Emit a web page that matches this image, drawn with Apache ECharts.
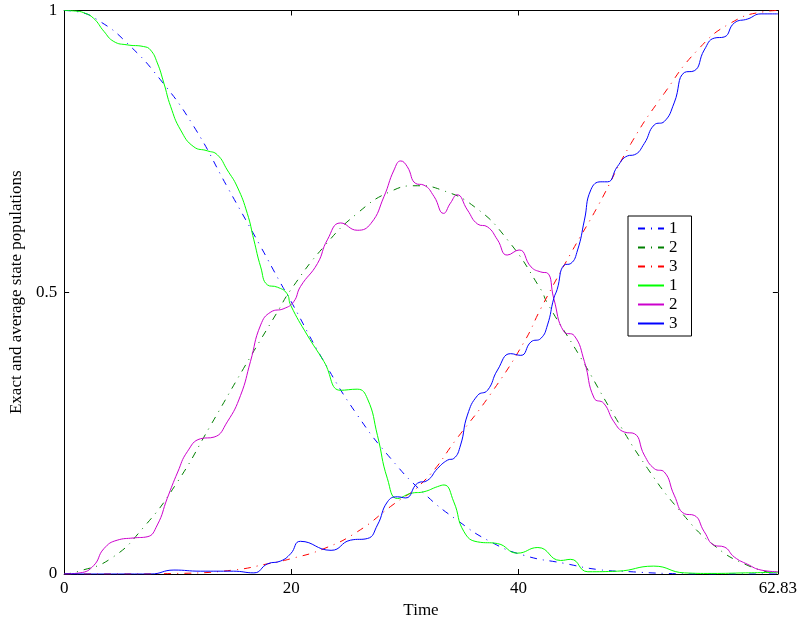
<!DOCTYPE html>
<html>
<head>
<meta charset="utf-8">
<script src="https://cdn.jsdelivr.net/npm/echarts@6/dist/echarts.min.js"></script>
<style>
html,body{margin:0;padding:0;background:#fff;}
#chart{width:800px;height:624px;}
</style>
</head>
<body>
<div id="chart"></div>
<script>
// ---- Data ----
const xTicks = [0, 20, 40, 62.83];
const yTicks = [0, 0.5, 1];

const legendKeys  = ['a1', 'a2', 'a3', 'e1', 'e2', 'e3'];
const legendNames = ['1', '2', '3', '1', '2', '3'];

// Average populations (dash-dot)
const avg1T = [0, 1.15, 3.2, 5.55, 8.48, 11.42, 14.36, 17.3, 19.06, 19.94, 22.87, 25.81, 28.75, 31.68, 34.63, 37.56, 40.5, 44.0, 46.96, 49.9, 53, 56, 59, 62.83];
const avg1V = [1, 0.998, 0.980, 0.942, 0.877, 0.794, 0.687, 0.581, 0.516, 0.485, 0.377, 0.282, 0.205, 0.143, 0.095, 0.057, 0.033, 0.019, 0.008, 0.004, 0.001, 0, 0, 0];

const avg2T = [0, 1.15, 4.08, 7.0, 9.96, 12.9, 15.8, 18.77, 19.94, 22.87, 25.8, 28.75, 31.1, 33.15, 36.1, 39.03, 41.96, 42.55, 45.5, 48.4, 51.37, 54.3, 57.2, 60.2, 62.83];
const avg2V = [0, 0.004, 0.027, 0.083, 0.163, 0.264, 0.365, 0.465, 0.504, 0.581, 0.640, 0.679, 0.689, 0.682, 0.652, 0.593, 0.505, 0.480, 0.383, 0.282, 0.187, 0.110, 0.051, 0.015, 0];

const avg3T = [0, 5, 10, 14.9, 17.9, 19.94, 22.87, 25.81, 28.75, 31.68, 34.63, 37.56, 40.5, 41.96, 44.6, 46.96, 49.9, 52.83, 55.77, 58.7, 61.64, 62.83];
const avg3V = [0, 0, 0.001, 0.007, 0.018, 0.027, 0.045, 0.075, 0.12, 0.165, 0.242, 0.32, 0.412, 0.471, 0.569, 0.652, 0.764, 0.853, 0.930, 0.978, 0.998, 1];

// Exact populations (solid)
const ex1T = [0, 1.0, 1.73, 2.6, 3.5, 4.37, 5.55, 7.0, 7.6, 8.2, 8.78, 9.37, 10.25, 11.42, 12.6, 13.48, 14.36, 15.24, 16.12, 16.7, 17.3, 17.9, 18.77, 19.6, 19.94, 21.4, 22.87, 24.34, 25.8, 26.7, 27.58, 28.46, 29.34, 30.5, 31.68, 32.86, 33.44, 34.3, 35.2, 36.4, 38.15, 39.9, 41.7, 43.7, 44.6, 46.1, 48.7, 51.9, 54.6, 57, 60, 62.83];
const ex1V = [1, 0.999, 0.996, 0.986, 0.963, 0.945, 0.939, 0.936, 0.930, 0.907, 0.871, 0.830, 0.788, 0.758, 0.751, 0.744, 0.717, 0.687, 0.640, 0.593, 0.545, 0.513, 0.509, 0.498, 0.477, 0.424, 0.377, 0.326, 0.328, 0.311, 0.246, 0.169, 0.134, 0.143, 0.146, 0.155, 0.158, 0.128, 0.075, 0.057, 0.054, 0.037, 0.047, 0.024, 0.026, 0.004, 0.005, 0.014, 0.002, 0.001, 0.002, 0.003];

const ex2T = [0, 1.4, 2.6, 3.5, 4.67, 6.1, 7.3, 8.2, 9.07, 10.0, 10.84, 12.0, 13.2, 14.36, 15.53, 16.4, 17.3, 18.2, 19.35, 20.2, 20.8, 22.3, 23.17, 24.34, 25.8, 27.0, 28.16, 29.04, 29.63, 30.2, 30.95, 31.68, 32.56, 33.4, 34.0, 34.6, 35.5, 36.4, 37.27, 38.15, 39.0, 40.05, 41.1, 41.96, 42.55, 43.1, 44.0, 44.9, 45.8, 46.66, 47.5, 48.4, 49.3, 50.2, 51.07, 51.95, 52.83, 53.7, 54.6, 55.47, 56.35, 57.23, 58.1, 59.0, 60.18, 61.35, 62.83];
const ex2V = [0, 0.002, 0.015, 0.045, 0.060, 0.064, 0.066, 0.087, 0.134, 0.181, 0.217, 0.240, 0.243, 0.270, 0.317, 0.377, 0.442, 0.465, 0.471, 0.483, 0.510, 0.551, 0.593, 0.623, 0.610, 0.622, 0.670, 0.717, 0.733, 0.723, 0.693, 0.690, 0.670, 0.640, 0.658, 0.673, 0.646, 0.621, 0.616, 0.593, 0.566, 0.575, 0.545, 0.536, 0.534, 0.489, 0.430, 0.423, 0.377, 0.312, 0.303, 0.270, 0.252, 0.249, 0.211, 0.187, 0.181, 0.140, 0.107, 0.104, 0.075, 0.051, 0.048, 0.030, 0.017, 0.007, 0.004];

const ex3T = [0, 7.6, 9.66, 12.0, 14.9, 16.7, 17.9, 19.06, 19.94, 20.8, 23.5, 25.2, 26.7, 27.58, 28.46, 29.34, 30.07, 31.1, 31.98, 32.86, 33.74, 34.3, 34.9, 35.5, 36.4, 37.27, 38.15, 39.3, 40.2, 41.1, 41.96, 42.55, 43.1, 43.4, 44.0, 44.6, 45.2, 45.8, 46.37, 47.25, 47.84, 48.7, 49.6, 50.2, 51.07, 51.95, 52.83, 53.7, 54.6, 55.47, 56.35, 57.23, 58.1, 59.0, 60.18, 61.35, 62.83];
const ex3V = [0, 0, 0.007, 0.005, 0.005, 0.002, 0.018, 0.023, 0.036, 0.058, 0.042, 0.060, 0.063, 0.087, 0.128, 0.137, 0.135, 0.161, 0.166, 0.187, 0.202, 0.205, 0.229, 0.282, 0.317, 0.326, 0.362, 0.391, 0.388, 0.412, 0.418, 0.442, 0.489, 0.505, 0.548, 0.551, 0.575, 0.628, 0.682, 0.696, 0.696, 0.723, 0.742, 0.744, 0.764, 0.797, 0.803, 0.836, 0.890, 0.893, 0.930, 0.951, 0.953, 0.978, 0.985, 0.994, 0.994];

// ---- Styles ----
const seriesColors = ['#0000ff', '#008000', '#ff0000', '#00ff00', '#cc00cc', '#0000ff'];
const seriesDashed = [true, true, true, false, false, false];

// ---- Chart ----
const zip = (t, v) => t.map((x, i) => [x, v[i]]);
const FONT = 'Liberation Serif';
const dashDot = [7, 6, 1, 6];
const seriesData = [[avg1T, avg1V], [avg2T, avg2V], [avg3T, avg3V], [ex1T, ex1V], [ex2T, ex2V], [ex3T, ex3V]];

const series = legendKeys.map((key, i) => ({
  name: key, type: 'line', data: zip(seriesData[i][0], seriesData[i][1]),
  showSymbol: false, symbol: 'none',
  smooth: 0.5,
  lineStyle: { color: seriesColors[i], width: 1, type: seriesDashed[i] ? dashDot : 'solid' },
  itemStyle: { color: seriesColors[i] },
  emphasis: { disabled: true },
  animation: false
}));

const axisLineStyle = { color: '#000', width: 1 };

const option = {
  animation: false,
  backgroundColor: '#fff',
  textStyle: { fontFamily: FONT },
  grid: { left: 64, right: 22, top: 10.5, bottom: 50, containLabel: false },
  legend: {
    orient: 'vertical',
    left: 628, top: 216,
    data: legendKeys,
    formatter: function (k) { return legendNames[legendKeys.indexOf(k)]; },
    itemWidth: 26, itemHeight: 14, itemGap: 2,
    padding: [4, 14, 4, 9],
    borderColor: '#000', borderWidth: 1,
    backgroundColor: '#fff',
    selectedMode: false,
    itemStyle: { opacity: 0 },
    textStyle: { fontFamily: FONT, fontSize: 17, color: '#000' }
  },
  xAxis: [
    {
      type: 'value', min: 0, max: 62.83, position: 'bottom',
      name: 'Time', nameLocation: 'middle', nameGap: 26,
      nameTextStyle: { fontFamily: FONT, fontSize: 17, color: '#000' },
      axisLine: { show: true, onZero: false, lineStyle: axisLineStyle },
      axisTick: { show: true, inside: true, length: 5, customValues: xTicks, lineStyle: axisLineStyle },
      axisLabel: { customValues: xTicks, margin: 6, fontFamily: FONT, fontSize: 17, color: '#000',
                   formatter: function (v) { return String(v); } },
      splitLine: { show: false }
    },
    {
      type: 'value', min: 0, max: 62.83, position: 'top',
      axisLine: { show: true, onZero: false, lineStyle: axisLineStyle },
      axisTick: { show: true, inside: true, length: 5, customValues: xTicks, lineStyle: axisLineStyle },
      axisLabel: { show: false },
      splitLine: { show: false }
    }
  ],
  yAxis: [
    {
      type: 'value', min: 0, max: 1, position: 'left',
      name: 'Exact and average state populations', nameLocation: 'middle', nameGap: 35,
      nameTextStyle: { fontFamily: FONT, fontSize: 17, color: '#000' },
      axisLine: { show: true, onZero: false, lineStyle: axisLineStyle },
      axisTick: { show: true, inside: true, length: 5, customValues: yTicks, lineStyle: axisLineStyle },
      axisLabel: { customValues: yTicks, margin: 7, fontFamily: FONT, fontSize: 17, color: '#000',
                   formatter: function (v) { return String(v); } },
      splitLine: { show: false }
    },
    {
      type: 'value', min: 0, max: 1, position: 'right',
      axisLine: { show: true, onZero: false, lineStyle: axisLineStyle },
      axisTick: { show: true, inside: true, length: 5, customValues: yTicks, lineStyle: axisLineStyle },
      axisLabel: { show: false },
      splitLine: { show: false }
    }
  ],
  series: series
};

const chart = echarts.init(document.getElementById('chart'), null, { renderer: 'canvas' });
chart.setOption(option);
</script>
</body>
</html>
